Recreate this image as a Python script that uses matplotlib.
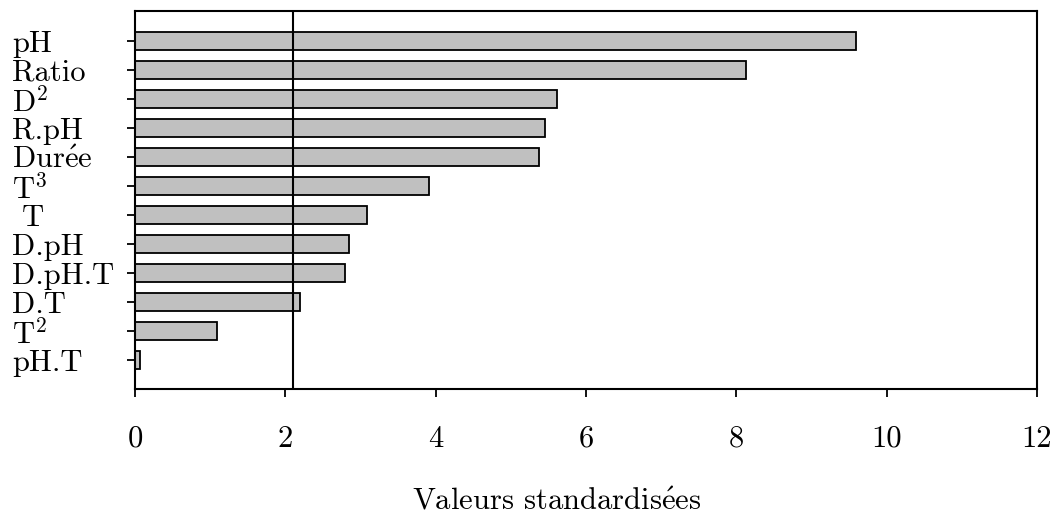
import matplotlib
matplotlib.use("Agg")
import matplotlib.pyplot as plt
import numpy as np

plt.rcParams['font.family'] = ['cmr10', 'DejaVu Serif']
plt.rcParams['mathtext.fontset'] = 'cm'
plt.rcParams['axes.unicode_minus'] = False

# effects (top to bottom) and standardised values
effects = ["pH", "Ratio", r"D$^2$", "R.pH", r"Dur$\mathrm{\acute{e}}$e", r"T$^3$", " T",
           "D.pH", "D.pH.T", "D.T", r"T$^2$", "pH.T"]
values = [9.59, 8.13, 5.61, 5.45, 5.37, 3.91, 3.09, 2.85, 2.80, 2.19, 1.09, 0.06]
threshold = 2.1
xticks = [0, 2, 4, 6, 8, 10, 12]
xlabel = r"Valeurs standardis$\mathrm{\acute{e}}$es"

fig = plt.figure(figsize=(10.55, 5.17), dpi=100)
ax = fig.add_axes([135/1055, 1 - 389/517, (1037-135)/1055, (389-11)/517])

pos = np.arange(len(effects))
ax.barh(pos, values, height=0.62, color='#c0c0c0', edgecolor='black', linewidth=1.3)
ax.axvline(threshold, color='black', lw=1.5)

ax.set_xlim(0, 12)
ax.set_ylim(len(effects) - 1 + 1.0, -1.04)
ax.set_xticks(xticks)
ax.set_xticklabels([str(t) for t in xticks], fontsize=22)
ax.set_yticks(pos)
ax.set_yticklabels(effects, fontsize=22, ha='left')
ax.tick_params(axis='y', direction='out', length=6, width=1.3, pad=82.5)
ax.tick_params(axis='x', direction='out', length=6, width=1.3, pad=20)
for s in ax.spines.values():
    s.set_linewidth(1.5)

ax.set_xlabel(xlabel, fontsize=22)
ax.xaxis.set_label_coords(0.467, -0.26)

fig.savefig("out.png", dpi=100)
